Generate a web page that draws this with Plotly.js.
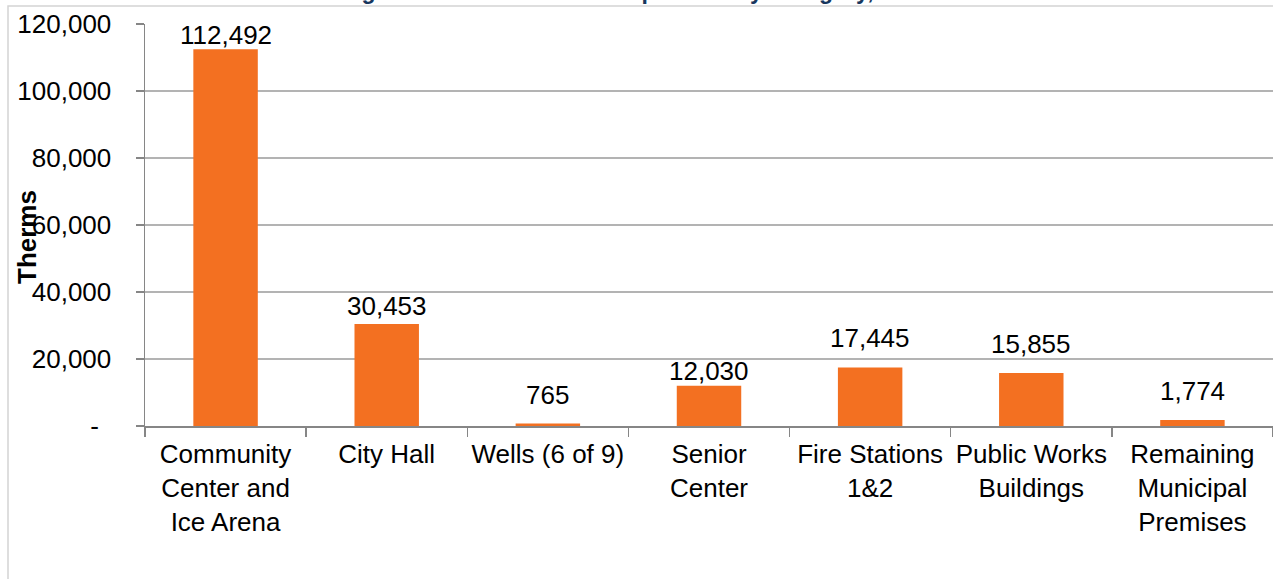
<!DOCTYPE html>
<html>
<head>
<meta charset="utf-8">
<script src="https://cdn.plot.ly/plotly-3.0.1.min.js"></script>
<style>
html,body{margin:0;padding:0;background:#fff;}
#chart{width:1273px;height:579px;}
</style>
</head>
<body>
<div id="chart"></div>
<script>
const categories = [
  "Community<br>Center and<br>Ice Arena",
  "City Hall",
  "Wells (6 of 9)",
  "Senior<br>Center",
  "Fire Stations<br>1&2",
  "Public Works<br>Buildings",
  "Remaining<br>Municipal<br>Premises"
];
const therms = [112492, 30453, 765, 12030, 17445, 15855, 1774];
const yTickVals = [0, 20000, 40000, 60000, 80000, 100000, 120000];
const yTickText = ["-\u00a0\u2009", "20,000", "40,000", "60,000", "80,000", "100,000", "120,000"];
const titleText = "Figure 10: Natural Gas Use per Facility Category, 2010";
const yTitle = "Therms";
// style: pixel lift of each data label above its bar (as placed in the original)
const labelLift = [12, 16, 26, 13, 28, 27, 27];

const FONT = "Liberation Sans, Arial, Helvetica, sans-serif";
const FS = 26;

const trace = {
  type: "bar",
  x: categories,
  y: therms,
  marker: {color: "#F37021", line: {width: 0}},
  hoverinfo: "x+y"
};

const labelAnnotations = categories.map((c, i) => ({
  x: c, y: therms[i], xref: "x", yref: "y",
  text: therms[i].toLocaleString("en-US"),
  showarrow: false,
  xanchor: "center", yanchor: "middle",
  yshift: labelLift[i] + 2,
  font: {family: FONT, size: FS, color: "#000"}
}));

const layout = {
  width: 1273,
  height: 579,
  margin: {l: 145, r: 0, t: 24, b: 153},
  paper_bgcolor: "#fff",
  plot_bgcolor: "#fff",
  bargap: 0.6,
  showlegend: false,
  font: {family: FONT, size: FS, color: "#000"},
  xaxis: {
    type: "category",
    tickson: "boundaries",
    ticks: "outside",
    ticklen: 9,
    tickcolor: "#868686",
    tickwidth: 1.5,
    showline: true,
    linecolor: "#868686",
    linewidth: 2,
    showgrid: false,
    ticklabelstandoff: 4,
    tickfont: {family: FONT, size: FS, color: "#000"},
    tickangle: 0,
    automargin: false
  },
  yaxis: {
    range: [0, 120000],
    tickvals: yTickVals,
    ticktext: yTickText,
    ticks: "outside",
    ticklen: 8,
    tickcolor: "#868686",
    tickwidth: 1.5,
    showline: true,
    linecolor: "#868686",
    linewidth: 1.5,
    showgrid: true,
    gridcolor: "#b3b3b3",
    gridwidth: 1.2,
    zeroline: false,
    ticklabelstandoff: 19,
    tickfont: {family: FONT, size: FS, color: "#000"},
    automargin: false
  },
  annotations: labelAnnotations.concat([
    {
      text: "<b>" + yTitle + "</b>",
      xref: "paper", yref: "paper",
      x: (27 - 145) / 1128, y: (426 - 237) / 402,
      xanchor: "center", yanchor: "middle",
      textangle: -90,
      showarrow: false,
      font: {family: FONT, size: FS, color: "#000"}
    },
    {
      text: "<b>" + titleText + "</b>",
      xref: "paper", yref: "paper",
      x: (636 - 145) / 1128, y: (426 - 6) / 402,
      xanchor: "center", yanchor: "bottom",
      showarrow: false,
      font: {family: FONT, size: 23, color: "#17375E"}
    }
  ]),
  shapes: [
    {
      type: "rect", xref: "paper", yref: "paper",
      x0: (8 - 145) / 1128, x1: 1.05,
      y0: -0.6, y1: (426 - 6) / 402,
      line: {color: "#d4d4d4", width: 1.5},
      layer: "below"
    }
  ]
};

Plotly.newPlot("chart", [trace], layout, {displayModeBar: false, staticPlot: true});
</script>
</body>
</html>
